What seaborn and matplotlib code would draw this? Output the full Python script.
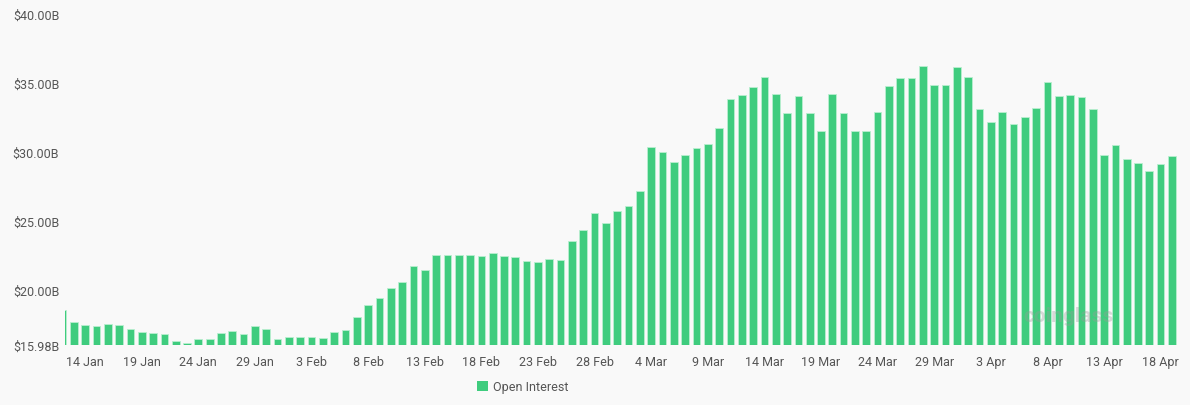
import numpy as np
import pandas as pd
import matplotlib
matplotlib.use("Agg")
import matplotlib.pyplot as plt
from matplotlib.patches import Patch
import seaborn as sns

# daily open interest, billions USD, 12 Jan - 19 Apr 2024
dates = pd.date_range("2024-01-12", "2024-04-19", freq="D")
open_interest = [
    18.50, 17.63, 17.43, 17.34, 17.53, 17.39, 17.10, 16.93, 16.83, 16.76,
    16.23, 16.13, 16.40, 16.42, 16.86, 16.98, 16.76, 17.32, 17.17, 16.40,
    16.59, 16.54, 16.54, 16.47, 16.93, 17.05, 17.99, 18.90, 19.42, 20.12,
    20.53, 21.69, 21.40, 22.49, 22.49, 22.51, 22.49, 22.41, 22.63, 22.46,
    22.37, 22.07, 21.98, 22.25, 22.15, 23.52, 24.35, 25.53, 24.80, 25.72,
    26.04, 27.12, 30.38, 29.95, 29.28, 29.80, 30.31, 30.60, 31.69, 33.86,
    34.15, 34.68, 35.46, 34.18, 32.78, 34.06, 32.85, 31.49, 34.20, 32.80,
    31.54, 31.54, 32.92, 34.78, 35.33, 35.33, 36.23, 34.83, 34.83, 36.13,
    35.46, 33.14, 32.17, 32.90, 32.03, 32.49, 33.21, 35.09, 34.06, 34.13,
    33.98, 33.14, 29.78, 30.46, 29.46, 29.22, 28.64, 29.08, 29.66,
]
y_ticks = [15.98, 20, 25, 30, 35, 40]
y_labels = ["$15.98B", "$20.00B", "$25.00B", "$30.00B", "$35.00B", "$40.00B"]

df = pd.DataFrame({"date": [f"{d.day} {d.strftime('%b')}" for d in dates],
                   "oi": open_interest})

sns.set_style("white")
plt.rcParams["font.family"] = ["Roboto", "DejaVu Sans"]

green = "#3fcc7e"
bg = "#f9f9f9"

fig = plt.figure(figsize=(11.9, 4.06), dpi=100, facecolor=bg)
ax = fig.add_axes([0.0545, 0.148, 0.937, 0.815])
ax.set_facecolor(bg)

sns.barplot(data=df, x="date", y="oi", color=green, saturation=1,
            width=0.68, edgecolor="#b9efd0", linewidth=0.6, ax=ax)

ax.set_xlim(0.21, 98.7)
ax.set_ylim(15.98, 40)
ax.set_yticks(y_ticks)
ax.set_yticklabels(y_labels)
tick_idx = list(range(2, len(df), 5))
ax.set_xticks(tick_idx)
ax.set_xticklabels(df["date"].iloc[tick_idx])
ax.tick_params(axis="both", length=0, labelsize=9, labelcolor="#555555")
ax.tick_params(axis="x", pad=7)
ax.tick_params(axis="y", pad=4)
ax.set_xlabel("")
ax.set_ylabel("")
for s in ax.spines.values():
    s.set_visible(False)

# watermark
ax.text(0.9, 0.09, "coinglass", transform=ax.transAxes, fontsize=15,
        fontweight="bold", color="#9a9a9a", alpha=0.35, ha="center", va="center")

fig.legend(handles=[Patch(facecolor=green, edgecolor="none", label="Open Interest")],
           loc="center", bbox_to_anchor=(0.439, 0.045), frameon=False,
           fontsize=9, handlelength=0.9, handleheight=0.9, handletextpad=0.4,
           labelcolor="#555555")

fig.savefig("out.png", dpi=100, facecolor=bg)
